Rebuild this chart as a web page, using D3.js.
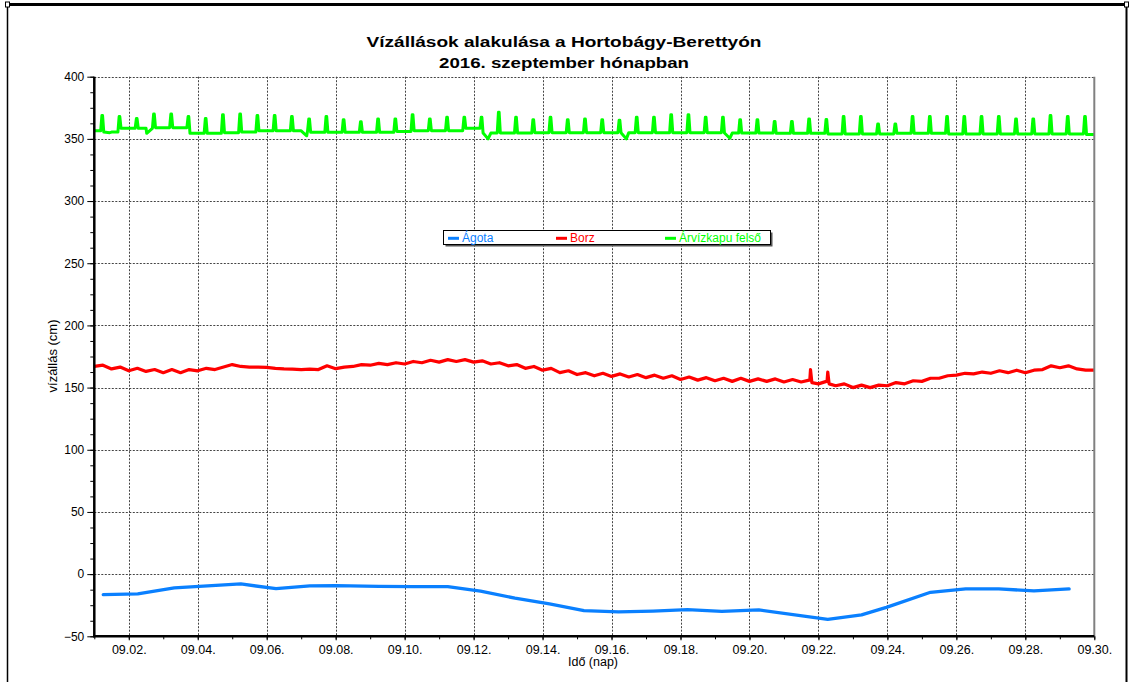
<!DOCTYPE html>
<html><head><meta charset="utf-8">
<script src="https://cdn.jsdelivr.net/npm/d3@7"></script>
<style>
body{margin:0;background:#fff;}
svg{display:block;font-family:"Liberation Sans",Arial,sans-serif;}
</style>
</head><body>
<svg id="c" width="1129" height="682"></svg>
<script>
// ---------- data ----------
const titleLines = ["Vízállások alakulása a Hortobágy-Berettyón", "2016. szeptember hónapban"];
const yAxisLabel = "vízállás (cm)";
const xAxisLabel = "Idő (nap)";
const seriesNames = ["Ágota", "Borz", "Árvízkapu felső"];
const seriesColors = ["#0a80ff", "#ff0000", "#00ff00"];
const xTickDays = [2,4,6,8,10,12,14,16,18,20,22,24,26,28,30];
const yTicks = [-50,0,50,100,150,200,250,300,350,400];

// Ágota (blue): day of September (fractional) and value
const agotaDays   = [1.26,2.26,3.32,5.25,6.27,7.25,8.0,9.25,10.25,11.25,12.2,13.2,14.2,15.2,16.2,17.2,18.2,19.2,20.27,22.27,23.25,23.97,25.25,26.27,27.23,28.25,29.27];
const agotaValues = [-16.5,-15.9,-11.1,-7.9,-11.7,-9.5,-9.2,-9.8,-10,-10,-13.7,-19.3,-24,-29.3,-30.4,-29.8,-28.6,-29.9,-28.8,-36.3,-32.8,-26.7,-14.6,-11.9,-11.9,-13.5,-11.9];

// Borz (red): every 6 hours from 09.01 00:00 to 09.30 00:00
const borzStartDay = 1, borzStepDay = 0.25;
const borzValues = [
 167,168,165,166.5,
 163.5,165.5,163,164.5,
 162,164.5,162,164.5,
 163.5,165.5,164.5,166.5,
 168.5,167,166.5,166.5,
 166.3,165.5,165,164.8,
 164.5,164.8,164.5,167.5,
 165.2,166.5,167,168.5,
 168,169.5,168.5,170,
 169,171,170,172,
 170.5,172.5,171,172.5,
 170.5,171.5,169,170,
 167.5,168.5,165.5,167,
 164,165.5,162,163.5,
 160.5,162,159.5,161.5,
 159,161,158.5,160.5,
 158,160,157.5,159.5,
 156.5,158.5,156,158,
 155.5,157.5,155,157.5,
 155,157,155,157,
 154.5,156.5,154.5,156,
 153,155,151.5,153,
 150,152,150,152,
 151.5,154,153,155.5,
 155,157.5,157.5,159.5,
 160,161.5,161,162.5,
 161.5,163.5,162,164,
 162,164,164.5,167.5,
 166,167.5,165,164,
 164];
const borzSpikeDays   = [21.73,21.77,21.81,22.23,22.27,22.31];
const borzSpikeValues = [156,164.5,154,155,162.5,153];

// Árvízkapu felső (green): baseline every 12 hours, spikes at ~05:30 and ~17:30 each day
const felsoBaseStep = 0.5;
const felsoBase = [356.5,355.5,358.5,358.5,359,359,354.5,354.5,355,355.5,356.5,356.5,356.5,355.3,355.3,355.3,355.3,355.3,356,356.6,356.6,356.6,358.5,354.7,354.7,354.7,355,355,355,355,355,355,355,355,355,355,355,354.7,354.7,354.7,354.5,354.5,354.5,354,354,354,354,354.5,354.5,354.5,354,354,354,354,354,354,354,354,353.5];
const felsoSpikeOffsets = [0.23, 0.73];
const felsoSpikes = [368.7,367.9,366.3,370,370,367.9,366.3,369.5,370,368.7,368.7,367.9,366,367.9,365.4,363.8,366,366,369.5,366,367.3,367.3,367.3,371.4,367.3,365.4,367.3,365.4,366,365.4,365,367.3,367.3,369.5,369.5,367.3,367.3,365.4,365.4,364,364,366,365.5,368,368,362,362,368,368,368,368,368,368,366,366,368.7,368,368];
const felsoDipDays   = [1.45,2.52,7.16,12.42,16.43,19.43];
const felsoDipValues = [355,354.5,352.5,350,350,350.5];

// ---------- build ----------
const svg = d3.select("#c");
const P = {l:94.3, r:1094.3, t:76.7, b:636.3};
const t0 = Date.UTC(2016, 8, 1);
const toDate = d => new Date(t0 + (d - 1) * 864e5);
const x = d3.scaleUtc().domain([toDate(1), toDate(30)]).range([P.l, P.r]);
const y = d3.scaleLinear().domain([-50, 400]).range([P.b, P.t]);
const fmt = d3.utcFormat("%m.%d.");

// outer frame
svg.append("line").attr("x1",7).attr("x2",1127).attr("y1",4.5).attr("y2",4.5).attr("stroke","#000").attr("stroke-width",3);
svg.append("line").attr("x1",7.5).attr("x2",7.5).attr("y1",4).attr("y2",682).attr("stroke","#000").attr("stroke-width",1.5);
svg.append("line").attr("x1",1126.5).attr("x2",1126.5).attr("y1",4).attr("y2",682).attr("stroke","#000").attr("stroke-width",2);
[[5.5,2],[1124.5,2]].forEach(p=>svg.append("rect").attr("x",p[0]).attr("y",p[1]).attr("width",4).attr("height",5).attr("fill","#fff").attr("stroke","#000").attr("stroke-width",1));

// title
titleLines.forEach((t,i)=>{
  svg.append("text").attr("x",564).attr("y",i?68:47).attr("text-anchor","middle")
    .attr("font-size",14.5).attr("font-weight","bold").attr("fill","#000")
    .attr("textLength", i?250:395).attr("lengthAdjust","spacingAndGlyphs").text(t);
});

// grid
const grid = svg.append("g").attr("stroke","#444").attr("stroke-width",1).attr("stroke-dasharray","2,1.5");
yTicks.filter(v=>v>-50).forEach(v=>grid.append("line").attr("x1",P.l).attr("x2",P.r).attr("y1",Math.round(y(v))+0.5).attr("y2",Math.round(y(v))+0.5));
xTickDays.filter(d=>d<30).forEach(d=>grid.append("line").attr("x1",Math.round(x(toDate(d)))+0.5).attr("x2",Math.round(x(toDate(d)))+0.5).attr("y1",P.t).attr("y2",P.b));

// clip
svg.append("clipPath").attr("id","clip").append("rect").attr("x",P.l).attr("y",P.t-20).attr("width",P.r-P.l).attr("height",P.b-P.t+20);

const line = d3.line().x(p=>x(toDate(p[0]))).y(p=>y(p[1]));

// series points
const agotaPts = agotaDays.map((d,i)=>[d, agotaValues[i]]);
const borzPts = borzValues.map((v,i)=>[borzStartDay + i*borzStepDay, v])
  .concat(borzSpikeDays.map((d,i)=>[d, borzSpikeValues[i]]))
  .sort((a,b)=>a[0]-b[0]);
const felsoPts = felsoBase.map((v,i)=>[1 + i*felsoBaseStep, v]);
felsoSpikes.forEach((v,i)=>{
  const t = 1 + Math.floor(i/2) + felsoSpikeOffsets[i%2];
  const j = Math.floor((t-1)/felsoBaseStep);
  felsoPts.push([t-0.045, felsoBase[j]], [t-0.01, v], [t+0.01, v], [t+0.045, felsoBase[j+1]]);
});
felsoDipDays.forEach((d,i)=>felsoPts.push([d, felsoDipValues[i]]));
felsoPts.sort((a,b)=>a[0]-b[0]);

const gLines = svg.append("g").attr("clip-path","url(#clip)");
[[felsoPts,2,3],[borzPts,1,3.2],[agotaPts,0,3.3]].forEach(([pts,ci,w])=>{
  gLines.append("path").datum(pts).attr("d",line).attr("fill","none")
    .attr("stroke",seriesColors[ci]).attr("stroke-width",w)
    .attr("stroke-linejoin","round").attr("stroke-linecap","round");
});

// right border of plot
svg.append("line").attr("x1",P.r).attr("x2",P.r).attr("y1",P.t).attr("y2",P.b).attr("stroke","#808080").attr("stroke-width",2);

// axes
const yAxis = d3.axisLeft(y).tickValues(yTicks).tickSize(7).tickPadding(3).tickFormat(d3.format("d"));
const gy = svg.append("g").attr("transform",`translate(${P.l},0)`).call(yAxis);
const yMinor = d3.axisLeft(y).tickValues(d3.range(-50,400.1,12.5)).tickSize(4).tickFormat("");
svg.append("g").attr("transform",`translate(${P.l},0)`).call(yMinor).select(".domain").remove();
const xAxis = d3.axisBottom(x).tickValues(xTickDays.map(toDate)).tickSize(4).tickPadding(5).tickFormat(fmt);
const gx = svg.append("g").attr("transform",`translate(0,${P.b})`).call(xAxis);
const xMinor = d3.axisBottom(x).tickValues(d3.range(1,30.1,1).map(toDate)).tickSize(3).tickFormat("");
svg.append("g").attr("transform",`translate(0,${P.b})`).call(xMinor).select(".domain").remove();
[gx,gy].forEach(g=>{
  g.select(".domain").remove();
  g.selectAll("text").attr("font-size",12).attr("font-family","Liberation Sans, Arial, sans-serif").attr("fill","#000");
});
gx.selectAll("text").attr("font-size",12.5);
svg.selectAll(".tick line").attr("stroke","#000");
// axis lines
svg.append("line").attr("x1",P.l).attr("x2",P.l).attr("y1",P.t).attr("y2",P.b+1).attr("stroke","#000").attr("stroke-width",2.5);
svg.append("line").attr("x1",P.l-1).attr("x2",P.r).attr("y1",P.b).attr("y2",P.b).attr("stroke","#000").attr("stroke-width",2.5);

// axis titles
svg.append("text").attr("transform","translate(56.5,356) rotate(-90)").attr("text-anchor","middle")
  .attr("font-size",13).attr("fill","#000").text(yAxisLabel);
svg.append("text").attr("x",593).attr("y",666).attr("text-anchor","middle")
  .attr("font-size",12.5).attr("fill","#000").text(xAxisLabel);

// legend
const lg = svg.append("g");
lg.append("rect").attr("x",445.5).attr("y",232.5).attr("width",327).attr("height",14).attr("fill","#555");
lg.append("rect").attr("x",443.5).attr("y",230.5).attr("width",327).attr("height",14).attr("fill","#fff").attr("stroke","#000").attr("stroke-width",1);
const legX = [448, 556, 665];
seriesNames.forEach((n,i)=>{
  lg.append("line").attr("x1",legX[i]).attr("x2",legX[i]+11).attr("y1",238.3).attr("y2",238.3)
    .attr("stroke",seriesColors[i]).attr("stroke-width",3);
  lg.append("text").attr("x",legX[i]+14).attr("y",242.3).attr("font-size",12).attr("fill",seriesColors[i]).text(n);
});
</script>
</body></html>
